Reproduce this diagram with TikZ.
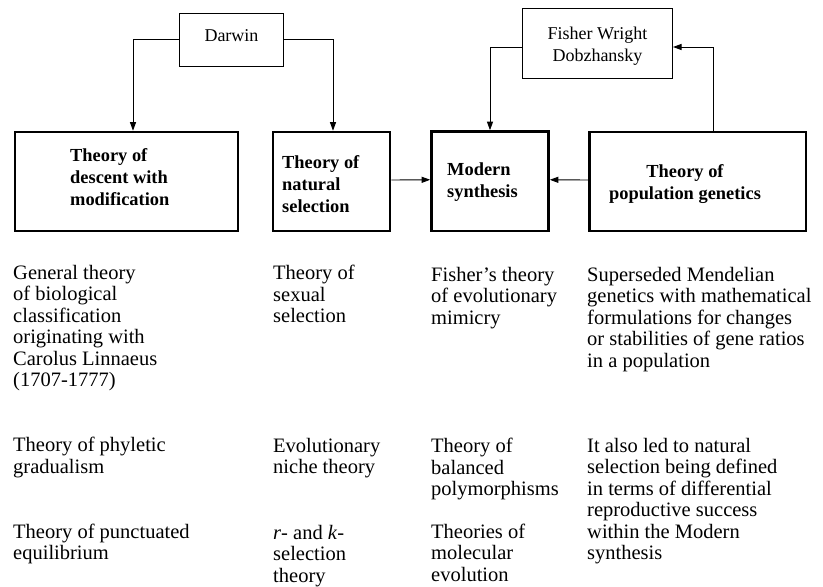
\documentclass[tikz,border=0pt]{standalone}
\usepackage{fontspec}
\setmainfont{Liberation Serif}
\usetikzlibrary{arrows.meta}
\begin{document}
\begin{tikzpicture}[x=1pt,y=-1pt,
  thickbox/.style={draw,rectangle,line width=2.6pt,inner sep=0pt},
  thinbox/.style={draw,rectangle,line width=1pt,inner sep=0pt},
  arr/.style={-{Triangle[length=8.5pt,width=6pt]},line width=0.9pt},
  body/.style={anchor=north west,inner sep=0pt,align=left,font=\fontsize{20.5}{21.5}\selectfont},
  boxtext/.style={anchor=north west,inner sep=0pt,align=left,font=\bfseries\fontsize{18.4}{22}\selectfont},
  nametext/.style={inner sep=0pt,align=center,font=\fontsize{18}{22}\selectfont}
]
\useasboundingbox (0,0) rectangle (823,587);

% boxes
\node[thickbox,minimum width=223pt,minimum height=99pt] (desc) at (126.5,181.5) {};
\node[thickbox,minimum width=117pt,minimum height=99pt] (nat) at (331.5,181.5) {};
\node[thickbox,minimum width=117pt,minimum height=99.5pt] (modern) at (490,181.25) {};
\node[thickbox,minimum width=216.5pt,minimum height=99pt] (pop) at (697.75,181.5) {};
\node[thinbox,minimum width=104pt,minimum height=52.5pt] (darwin) at (231.5,39.75) {};
\node[thinbox,minimum width=150pt,minimum height=69.5pt] (fisher) at (597.5,43.25) {};

% box texts
\node[nametext,anchor=north] (darwinT) at (231.5,29) {Darwin};
\node[nametext,anchor=north] (fisherT) at (597.5,26.5) {Fisher Wright\\Dobzhansky};
\node[boxtext] (descT) at (70,148.5) {Theory of\\descent with\\modification};
\node[boxtext] (natT) at (282,155.5) {Theory of\\natural\\selection};
\node[boxtext] (modT) at (447,162.5) {Modern\\synthesis};
\node[boxtext,anchor=north,align=center] (popT) at (685,164.5) {Theory of\\population genetics};

% connectors
\draw[arr] (darwin.west) -| ([xshift=6.5pt]desc.north);
\draw[arr] (darwin.east) -| ([xshift=1.5pt]nat.north);
\draw[arr] ([yshift=-3.75pt]fisher.west) -| (modern.north);
\draw[arr] ([xshift=15.5pt]pop.north) |- ([yshift=-3.75pt]fisher.east);
\draw[arr] ([yshift=1.5pt]nat.east) -- ([yshift=1.5pt]modern.west);
\draw[arr] ([yshift=1.5pt]pop.west) -- ([yshift=1.5pt]modern.east);

% body texts
\node[body] (c1a) at (13,265) {General theory\\of biological\\classification\\originating with\\Carolus Linnaeus\\(1707-1777)};
\node[body] (c1b) at (13,437) {Theory of phyletic\\gradualism};
\node[body] (c1c) at (13,523.5) {Theory of punctuated\\equilibrium};

\node[body] (c2a) at (273,265) {Theory of\\sexual\\selection};
\node[body] (c2b) at (273,438) {Evolutionary\\niche theory};
\node[body] (c2c) at (273,525) {\textit{r}- and \textit{k}-\\selection\\theory};

\node[body] (c3a) at (431,267) {Fisher’s theory\\of evolutionary\\mimicry};
\node[body] (c3b) at (431,438) {Theory of\\balanced\\polymorphisms};
\node[body] (c3c) at (431,523.5) {Theories of\\molecular\\evolution};

\node[body] (c4a) at (587,267) {Superseded Mendelian\\genetics with mathematical\\formulations for changes\\or stabilities of gene ratios\\in a population};
\node[body] (c4b) at (587,438) {It also led to natural\\selection being defined\\in terms of differential\\reproductive success\\within the Modern\\synthesis};
\end{tikzpicture}
\end{document}
